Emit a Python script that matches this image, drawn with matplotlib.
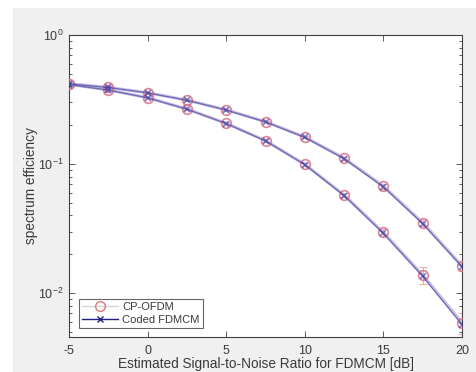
import matplotlib
matplotlib.use("Agg")
import matplotlib.pyplot as plt
from matplotlib.patches import Rectangle
from matplotlib.ticker import LogLocator, NullFormatter

plt.rcParams['font.family'] = ['Liberation Sans', 'DejaVu Sans']

# SNR points (dB)
snr = [-5, -2.5, 0, 2.5, 5, 7.5, 10, 12.5, 15, 17.5, 20]

# CP-OFDM, two configurations
ofdm_high = [0.420, 0.393, 0.357, 0.313, 0.263, 0.213, 0.162, 0.111, 0.0675, 0.0351, 0.0163]
ofdm_low = [0.415, 0.375, 0.327, 0.267, 0.207, 0.152, 0.0995, 0.0575, 0.0295, 0.0138, 0.0059]
ofdm_high_err = [0.004, 0.004, 0.004, 0.004, 0.004, 0.003, 0.003, 0.003, 0.003, 0.002, 0.0015]
ofdm_low_err = [0.004, 0.004, 0.004, 0.004, 0.003, 0.003, 0.003, 0.002, 0.002, 0.002, 0.0011]

# Coded FDMCM, two configurations
fdmcm_high = [0.418, 0.392, 0.356, 0.312, 0.262, 0.212, 0.161, 0.110, 0.0665, 0.0345, 0.0160]
fdmcm_low = [0.413, 0.374, 0.326, 0.266, 0.206, 0.151, 0.0990, 0.0570, 0.0290, 0.0135, 0.0057]

fig = plt.figure(figsize=(4.76, 3.72), dpi=100, facecolor='white')
# grey MATLAB-like figure panel
fig.patches.append(Rectangle((13 / 476, 0), 1, 1 - 8 / 372, transform=fig.transFigure,
                             facecolor='#f0f0f0', edgecolor='none', zorder=-10))

ax = fig.add_axes([69 / 476, 35 / 372, 393 / 476, 302 / 372])
ax.set_facecolor('white')

txt = '#3a3a3a'
ofdm_line = '#c4b8dc'
ofdm_mark = '#d87890'
err_col = '#e8b0a0'
fd_col = '#3434a0'

for vals, err in [(ofdm_high, ofdm_high_err), (ofdm_low, ofdm_low_err)]:
    ax.errorbar(snr, vals, yerr=err, fmt='none', ecolor=err_col, elinewidth=0.8,
                capsize=3, capthick=0.8, zorder=2)
    ax.plot(snr, vals, color=ofdm_line, lw=2.2, marker='o', ms=7, mfc='none',
            mec=ofdm_mark, mew=1.2, alpha=0.9, zorder=3)

for vals in [fdmcm_high, fdmcm_low]:
    ax.plot(snr, vals, color=fd_col, lw=1.0, marker='x', ms=5, mew=1.2,
            alpha=0.6, zorder=4)

# legend proxies
h1, = ax.plot([], [], color='#dcd0d8', lw=1.0, marker='o', ms=7, mfc='none',
              mec='#e07878', mew=1.0, label='CP-OFDM')
h2, = ax.plot([], [], color='#202080', lw=1.0, marker='x', ms=5, mew=1.0,
              label='Coded FDMCM')
leg = ax.legend(handles=[h1, h2], loc='lower left', bbox_to_anchor=(0.025, 0.03),
                fontsize=8, frameon=True, fancybox=False, borderpad=0.3,
                handlelength=3.2, labelspacing=0.2, handletextpad=0.4,
                borderaxespad=0)
leg.get_frame().set_edgecolor('#404040')
leg.get_frame().set_linewidth(0.8)
for t in leg.get_texts():
    t.set_color(txt)

ax.set_yscale('log')
ax.set_xlim(-5, 20)
ax.set_ylim(10 ** -2.34, 1)
ax.set_xticks([-5, 0, 5, 10, 15, 20])
ax.set_xticklabels(['-5', '0', '5', '10', '15', '20'])
ax.yaxis.set_major_locator(LogLocator(base=10, numticks=5))
ax.yaxis.set_minor_locator(LogLocator(base=10, subs=range(2, 10), numticks=20))
ax.yaxis.set_minor_formatter(NullFormatter())

ax.tick_params(which='both', direction='in', top=True, right=True, colors='#404040',
               labelcolor=txt, labelsize=9, width=0.6)
ax.tick_params(which='major', length=4)
ax.tick_params(axis='x', which='major', pad=6)
ax.tick_params(axis='y', which='major', pad=4)
ax.tick_params(which='minor', length=2)
for s in ax.spines.values():
    s.set_color('#404040')
    s.set_linewidth(0.8)

ax.set_xlabel('Estimated Signal-to-Noise Ratio for FDMCM [dB]', fontsize=9.8,
              color=txt, labelpad=0)
ax.set_ylabel('spectrum efficiency', fontsize=9.8, color=txt, labelpad=0)

fig.savefig('out.png', dpi=100, facecolor=fig.get_facecolor())
